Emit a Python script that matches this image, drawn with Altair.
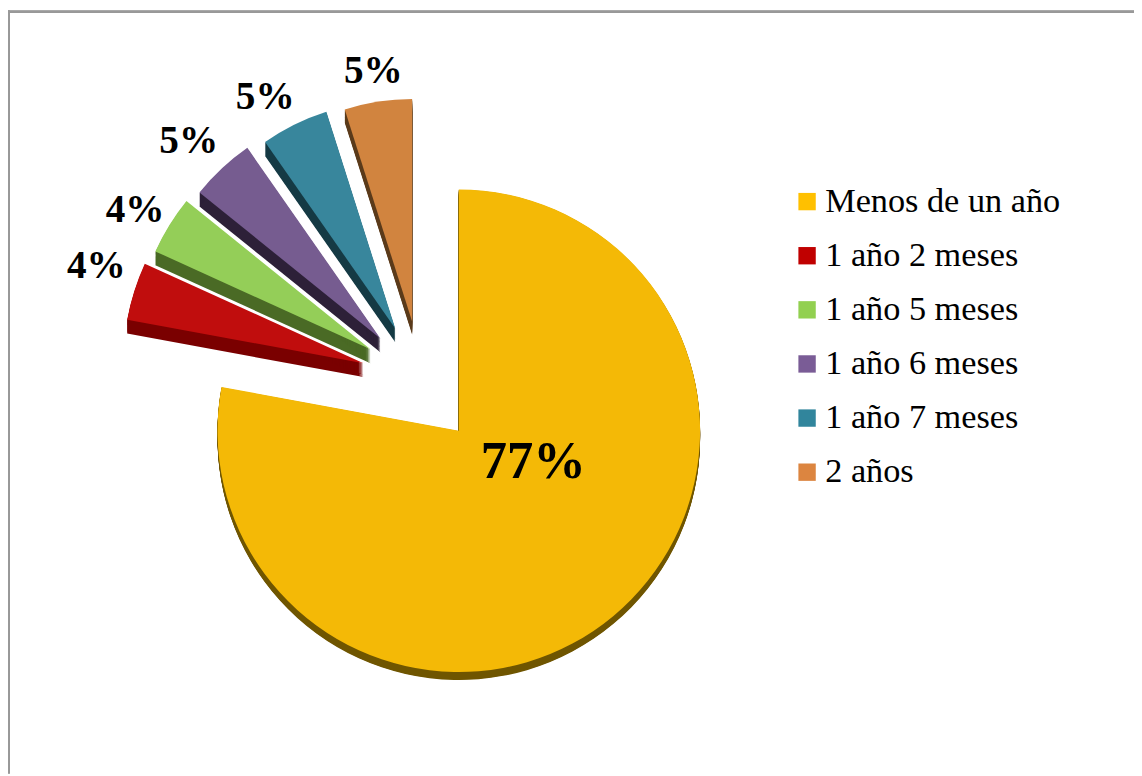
import math
import altair as alt
import pandas as pd

# Slices, in clockwise drawing order from twelve o'clock
categories = ["Menos de un año", "1 año 2 meses", "1 año 5 meses", "1 año 6 meses", "1 año 7 meses", "2 años"]
shares = [77.9, 3.9, 4.0, 4.5, 4.8, 4.9]
labels = ["77%", "4%", "4%", "5%", "5%", "5%"]

# Exploded slice apex and radius (image pixels)
apex_x = [462, 366, 373, 383, 398, 415]
apex_y = [431, 363, 349, 338, 328, 321]
radii = [243, 242, 238, 234, 229, 224]
depth = [8, 14, 14, 14, 14, 13]
label_x = [537, 97, 136, 190, 267, 376]
label_y = [463, 265.5, 208.5, 139.5, 94.5, 68.5]
label_size = [53, 39.5, 39.5, 39.5, 39.5, 39.5]

face_colors = ["#F4B906", "#C00D0D", "#94CE58", "#765C90", "#38869C", "#D1843F"]
side_colors = ["#6F5500", "#7A0000", "#4A6A25", "#2D2038", "#153A44", "#5A3A1A"]
legend_colors = ["#FFC000", "#C00000", "#92D050", "#7A5C96", "#31859C", "#DC8540"]
extrude_steps = [k / 14 for k in range(1, 15)]

W, H = 1134, 768
total = sum(shares)
rows, start = [], 0.0
for i, c in enumerate(categories):
    end = start + shares[i] / total * 2 * math.pi
    rows.append(dict(cat=c, t0=start, t1=end, ax=apex_x[i], ay=apex_y[i], r=radii[i],
                     d=depth[i], face=face_colors[i], side=side_colors[i],
                     label=labels[i], lx=label_x[i], ly=label_y[i], ls=label_size[i]))
    start = end
df = pd.DataFrame(rows)
sides = pd.concat([df.assign(ay=df.ay + df.d * s) for s in extrude_steps], ignore_index=True)

xs = alt.Scale(domain=[8, 8 + W], range=[0, W], nice=False, zero=False)
ys = alt.Scale(domain=[8, 8 + H], range=[0, H], nice=False, zero=False)


def arcs(data, fill):
    return alt.Chart(data).mark_arc(strokeWidth=0).encode(
        x=alt.X("ax:Q", scale=xs, axis=None),
        y=alt.Y("ay:Q", scale=ys, axis=None),
        theta=alt.Theta("t0:Q", scale=None),
        theta2="t1:Q",
        radius=alt.Radius("r:Q", scale=None),
        fill=alt.Fill(fill, scale=None, legend=None),
    )


side_layer = arcs(sides, "side:N")
face_layer = arcs(df, "face:N")

legend_layer = alt.Chart(df).mark_arc(radius=0, strokeWidth=0).encode(
    x=alt.X("ax:Q", scale=xs, axis=None),
    y=alt.Y("ay:Q", scale=ys, axis=None),
    theta=alt.Theta("t0:Q", scale=None),
    theta2="t1:Q",
    color=alt.Color(
        "cat:N",
        scale=alt.Scale(domain=categories, range=legend_colors),
        sort=categories,
        legend=alt.Legend(
            title=None, orient="none", legendX=787.5, legendY=175,
            symbolType="square", symbolSize=306, symbolStrokeWidth=0, symbolOpacity=1,
            labelFont="Liberation Serif", labelFontSize=34.5, labelColor="#000000",
            labelOffset=1, labelLimit=400, rowPadding=19.5, padding=0,
        ),
    ),
)

text_layer = alt.Chart(df).mark_text(
    font="Liberation Serif", fontWeight="bold", color="#000000", baseline="middle", align="center"
).encode(
    x=alt.X("lx:Q", scale=xs, axis=None),
    y=alt.Y("ly:Q", scale=ys, axis=None),
    text="label:N",
    size=alt.Size("ls:Q", scale=None, legend=None),
)

frame_top = alt.Chart(df).mark_rule(color="#999999", strokeWidth=2).encode(
    x=alt.value(0), x2=alt.value(W), y=alt.value(1)
)
frame_left = alt.Chart(df).mark_rule(color="#999999", strokeWidth=2).encode(
    x=alt.value(1), y=alt.value(0), y2=alt.value(H)
)

chart = alt.layer(
    frame_top, frame_left, legend_layer, side_layer, face_layer, text_layer
).resolve_scale(
    fill="independent"
).properties(
    width=W, height=H, padding=0, autosize=alt.AutoSizeParams(type="none"), background="#FFFFFF"
).configure_view(stroke=None)

chart.save("out.html", embed_options={"renderer": "svg", "actions": False})
